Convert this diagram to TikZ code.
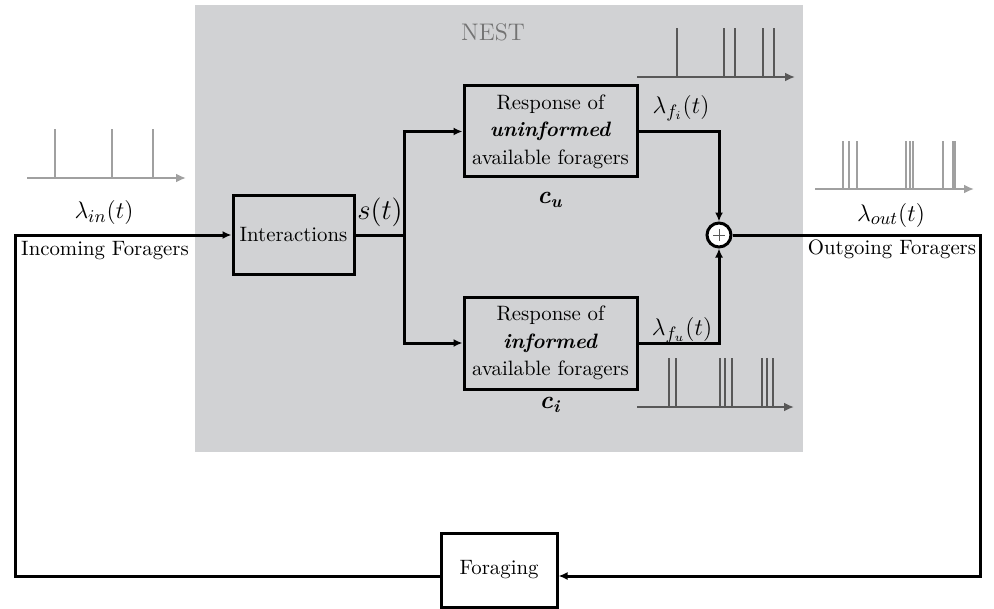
\documentclass[tikz,border=0pt]{standalone}
\usetikzlibrary{arrows.meta}
\definecolor{nestgray}{RGB}{209,210,212}
\definecolor{darkspike}{RGB}{88,88,88}
\definecolor{lightspike}{RGB}{160,160,160}
\definecolor{nesttext}{RGB}{115,115,115}
\begin{document}
\begin{tikzpicture}[x=0.5pt,y=-0.5pt,
  blk/.style={draw=black, line width=1.5pt, align=center, inner sep=0pt,
    font=\fontsize{10.4}{13.75}\selectfont},
  wire/.style={line width=1.5pt, draw=black},
  arr/.style={wire, -{Latex[length=4.5pt,width=4pt]}},
  lbl/.style={inner sep=0pt, font=\fontsize{10.4}{13.75}\selectfont},
  mlbl/.style={inner sep=0pt, font=\fontsize{13}{15}\selectfont},
  spk/.style={line width=0.65pt},
  axisline/.style={line width=1pt, -{Latex[length=5pt,width=4.5pt]}},
  sumnode/.style={circle, draw=black, line width=1.5pt, fill=white, minimum size=12pt, inner sep=0pt}
]
\useasboundingbox (0,0) rectangle (994,609);
% nest region
\path[fill=nestgray] (195,5) rectangle (803,452);
\node[lbl, text=nesttext, font=\fontsize{12}{14}\selectfont] (nest) at (493,32) {NEST};

% blocks
\node[blk, fill=nestgray, minimum width=60.5pt, minimum height=39pt] (inter) at (293.5,235) {Interactions};
\node[blk, fill=nestgray, minimum width=86.5pt, minimum height=45.5pt] (upper) at (550.5,131.5)
  {Response of\\ \textbf{\textit{uninformed}}\\ available foragers};
\node[blk, fill=nestgray, minimum width=86.5pt, minimum height=46pt] (lower) at (550.5,343)
  {Response of\\ \textbf{\textit{informed}}\\ available foragers};
\node[blk, fill=white, minimum width=58pt, minimum height=37pt] (fora) at (499,570) {Foraging};
\node[sumnode] (sum) at (719,235) {};
\draw[line width=0.4pt, draw=darkspike] (713,235) -- (725,235) (719,229) -- (719,241);

% labels
\node[mlbl] (lin) at (104,213) {$\lambda_{in}(t)$};
\node[lbl] (inc) at (105,251) {Incoming Foragers};
\node[mlbl, font=\fontsize{15}{17}\selectfont] (st) at (380,212) {$s(t)$};
\node[mlbl] (lfi) at (681,108) {$\lambda_{f_i}(t)$};
\node[mlbl] (lfu) at (682,330) {$\lambda_{f_u}(t)$};
\node[lbl, font=\fontsize{12.5}{15}\selectfont] (cu) at (550,200) {\textbf{\textit{c\textsubscript{u}}}};
\node[lbl, font=\fontsize{12.5}{15}\selectfont] (ci) at (550,405) {\textbf{\textit{c\textsubscript{i}}}};
\node[mlbl] (lout) at (891,215) {$\lambda_{out}(t)$};
\node[lbl] (outg) at (892,249) {Outgoing Foragers};

% connectors
\coordinate (inL) at (15,235);
\coordinate (bl) at (15,576);
\coordinate (split) at (404,235);
\coordinate (outR) at (980,235);
\coordinate (br) at (980,576);
\draw[arr] (fora.west |- bl) -- (bl) -- (inL) -- (inter.west);
\draw[wire] (inter.east) -- (split);
\draw[arr] (split) |- (upper.west);
\draw[arr] (split) |- (lower.west);
\draw[arr] (upper.east) -| (sum.north);
\draw[arr] (lower.east) -| (sum.south);
\draw[arr] (sum.east) -- (outR) -- (br) -- (fora.east |- br);

% spike trains
\draw[axisline, draw=lightspike] (27,178) -- (186,178);
\foreach \s in {55,112,153} \draw[spk, draw=lightspike] (\s,178) -- (\s,129);
\draw[axisline, draw=darkspike] (637,77) -- (795,77);
\foreach \s in {677,724,735,763,774} \draw[spk, draw=darkspike] (\s,77) -- (\s,28);
\draw[axisline, draw=darkspike] (637,407) -- (794,407);
\foreach \s in {669,676,720,725,732,762,767,773} \draw[spk, draw=darkspike] (\s,407) -- (\s,358);
\draw[axisline, draw=lightspike] (815,189) -- (974,189);
\foreach \s in {843,849,857,906,910,913,943,953,955} \draw[spk, draw=lightspike] (\s,189) -- (\s,141);
\end{tikzpicture}
\end{document}
